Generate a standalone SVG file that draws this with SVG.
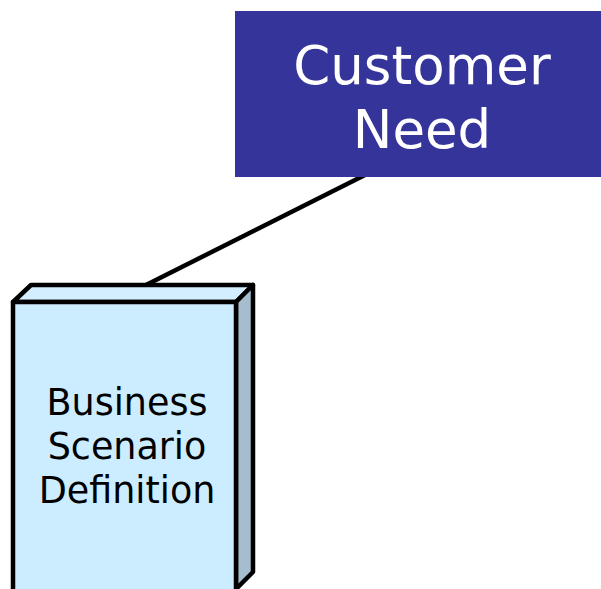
<svg xmlns="http://www.w3.org/2000/svg" width="601" height="589" viewBox="0 0 601 589">
<style>
text{font-family:"DejaVu Sans",sans-serif;text-anchor:middle}
.cn{fill:#fff;font-size:53px}
.bs{fill:#000;font-size:36.5px}
.face{stroke:#000;stroke-width:4.5;stroke-linejoin:round}
</style>
<rect width="601" height="589" fill="#fff"/>
<g id="connectors">
<line x1="365" y1="175" x2="140" y2="288" stroke="#000" stroke-width="4.5"/>
</g>
<g id="customer-need">
<rect x="235" y="11" width="366" height="166" fill="#35349A"/>
<text class="cn" x="422" y="84">Customer</text>
<text class="cn" x="422" y="148">Need</text>
</g>
<g id="business-scenario">
<polygon class="face" points="13,302 31,285 253,285 236,302" fill="#D3EEFF"/>
<polygon class="face" points="236,302 253,285 253,572 236,589" fill="#A5BDCD"/>
<rect class="face" x="13" y="302" width="223" height="292" fill="#CCECFF"/>
<text class="bs" x="127" y="415">Business</text>
<text class="bs" x="127" y="459">Scenario</text>
<text class="bs" x="127" y="503">Definition</text>
</g>
</svg>
